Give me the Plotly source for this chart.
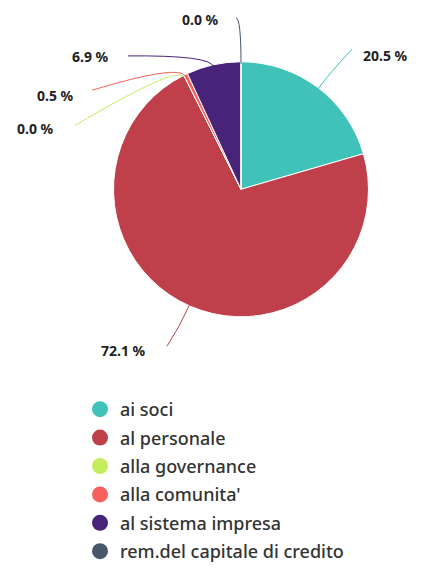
import math
import plotly.graph_objects as go

# ---- data ----
categories = ["ai soci", "al personale", "alla governance", "alla comunita'",
              "al sistema impresa", "rem.del capitale di credito"]
values = [20.5, 72.1, 0.0, 0.5, 6.9, 0.0]
colors = ["#40C2B8", "#BF404B", "#C3EC5F", "#F8615B", "#48237A", "#465869"]

# ---- layout constants (pixels) ----
W, H = 427, 570
CX, CY, R = 241, 193, 128
DOM_PAD = 2
# per slice: radial extension of connector bend, connector end, label anchor, xanchor
label_layout = [
    (22, (352, 50), (361, 57), "left"),
    (25, (167, 353), (148, 357), "right"),
    (14, (75, 128), (56, 131), "right"),
    (14, (92, 92), (76, 97), "right"),
    (12, (128, 57), (111, 58), "right"),
    (46, (236, 18), (221, 20), "right"),
]


def px(x, y):
    return x / W, 1 - y / H


fig = go.Figure()
d0 = px(CX - R - DOM_PAD, CY - R - DOM_PAD)
d1 = px(CX + R + DOM_PAD, CY + R + DOM_PAD)
fig.add_trace(go.Pie(
    labels=categories, values=values, sort=False, direction="clockwise",
    rotation=0, textinfo="none", showlegend=False,
    marker=dict(colors=colors, line=dict(color="white", width=1)),
    domain=dict(x=[d0[0], d1[0]], y=[d1[1], d0[1]]),
))

# legend entries as circle markers
for i, (c, col) in enumerate(zip(categories, colors)):
    fig.add_trace(go.Scatter(
        x=[None], y=[None], mode="markers", name=c, legendgroup=f"g{i}",
        marker=dict(color=col, size=17, symbol="circle"),
    ))

# connectors and labels computed from slice angles
total = sum(values)
cum = 0.0
shapes, annotations = [], []
for v, col, (ext, end, txt, xa) in zip(values, colors, label_layout):
    mid = (cum + v / 2) / total * 2 * math.pi
    cum += v
    sx, sy = CX + R * math.sin(mid), CY - R * math.cos(mid)
    qx, qy = CX + (R + ext) * math.sin(mid), CY - (R + ext) * math.cos(mid)
    p0, pq, p1 = px(sx, sy), px(qx, qy), px(*end)
    shapes.append(dict(
        type="path", xref="paper", yref="paper",
        path=f"M {p0[0]},{p0[1]} Q {pq[0]},{pq[1]} {p1[0]},{p1[1]}",
        line=dict(color=col, width=1),
    ))
    t = px(*txt)
    annotations.append(dict(
        x=t[0], y=t[1], xref="paper", yref="paper", text=f"<b>{v:.1f} %</b>",
        showarrow=False, xanchor=xa, yanchor="middle",
        font=dict(family="Noto Sans", size=14, color="#222222"),
    ))

fig.update_layout(
    width=W, height=H, margin=dict(l=0, r=0, t=0, b=0),
    paper_bgcolor="white", plot_bgcolor="white",
    xaxis=dict(visible=False), yaxis=dict(visible=False),
    shapes=shapes, annotations=annotations,
    legend=dict(x=80 / W, y=1 - 399 / H, xanchor="left", yanchor="top",
                font=dict(family="Noto Sans", size=18, color="#333333", weight=500),
                tracegroupgap=2, itemclick=False),
)

fig.write_html("out.html")
